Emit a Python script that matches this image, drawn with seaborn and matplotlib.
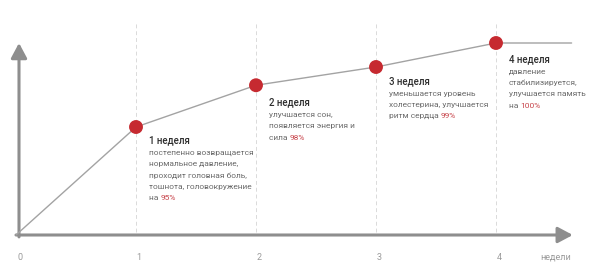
import matplotlib
matplotlib.use("Agg")
import matplotlib.pyplot as plt
import seaborn as sns
import pandas as pd

# weeks and the visual "recovery level" of each point
weeks = [0, 1, 2, 3, 4, 4.63]
levels = [0, 0.5625, 0.78, 0.875, 1.0, 1.0]
dot_weeks = [1, 2, 3, 4]
dot_levels = [0.5625, 0.78, 0.875, 1.0]

titles = ["1 неделя", "2 неделя", "3 неделя", "4 неделя"]
bodies = [
    ["постепенно возвращается", "нормальное давление,", "проходит головная боль,",
     "тошнота, головокружение", "на "],
    ["улучшается сон,", "появляется энергия и", "сила "],
    ["уменьшается уровень", "холестерина, улучшается", "ритм сердца "],
    ["давление", "стабилизируется,", "улучшается память", "на "],
]
percents = ["95%", "98%", "99%", "100%"]
tick_labels = ["0", "1", "2", "3", "4"]
x_unit = "недели"

# pixel offset of each title below its dot
title_dy = [13, 17, 14, 16]

AXIS = "#8e8e8e"
RED = "#c62a30"
PCT = "#c8454b"

sns.set_theme(style="white")
plt.rcParams["font.family"] = ["Roboto", "DejaVu Sans"]

fig = plt.figure(figsize=(6, 2.74), dpi=100)
ax = fig.add_axes([0, 0, 1, 1])
ax.set_xlim(-16 / 120, 584 / 120)
ax.set_ylim(-39 / 192, 235 / 192)
ax.axis("off")

# dashed guides
for w in dot_weeks:
    ax.plot([w, w], [0.016, 1.11], color="#dadada", lw=0.7, ls=(0, (4, 3)), zorder=1)

# axes with arrows
head = dict(arrowstyle="-|>,head_length=0.75,head_width=0.4", color=AXIS, lw=2.2,
            mutation_scale=12, shrinkA=0, shrinkB=0)
ax.annotate("", xy=(0.025, 1.0), xytext=(0.025, -0.01), arrowprops=head, zorder=2)
ax.annotate("", xy=(4.64, 0), xytext=(0.0, 0), arrowprops=head, zorder=2)

df = pd.DataFrame({"week": weeks, "level": levels})
sns.lineplot(data=df, x="week", y="level", color="#a3a3a3", lw=1, ax=ax, zorder=3)
dots = pd.DataFrame({"week": dot_weeks, "level": dot_levels})
sns.scatterplot(data=dots, x="week", y="level", color=RED, s=100, edgecolor="none",
                ax=ax, zorder=4)
ax.set_xlabel("")
ax.set_ylabel("")

# tick labels
for i, lab in enumerate(tick_labels):
    ax.annotate(lab, xy=(i, 0), xytext=(3 if i else 4, -22), textcoords="offset pixels",
                ha="center", va="center", fontsize=6.5, color="#9a9a9a")
ax.annotate(x_unit, xy=(4.64, 0), xytext=(-17, -22), textcoords="offset pixels",
            ha="center", va="center", fontsize=6.5, color="#9a9a9a")

# annotation blocks
for w, lv, t, body, pct, dy in zip(dot_weeks, dot_levels, titles, bodies, percents, title_dy):
    ax.annotate(t, xy=(w, lv), xytext=(13, -dy), textcoords="offset pixels",
                ha="left", va="center", fontsize=7, fontweight="medium", color="#2e2e2e")
    for j, line in enumerate(body):
        txt = ax.annotate(line, xy=(w, lv), xytext=(13, -dy - 13 - 11.2 * j),
                          textcoords="offset pixels", ha="left", va="center",
                          fontsize=6, color="#6a6a6a")
    ax.annotate(pct, xy=(1, 0.5), xycoords=txt, ha="left", va="center",
                fontsize=6, color=PCT)

fig.savefig("out.png", dpi=100)
